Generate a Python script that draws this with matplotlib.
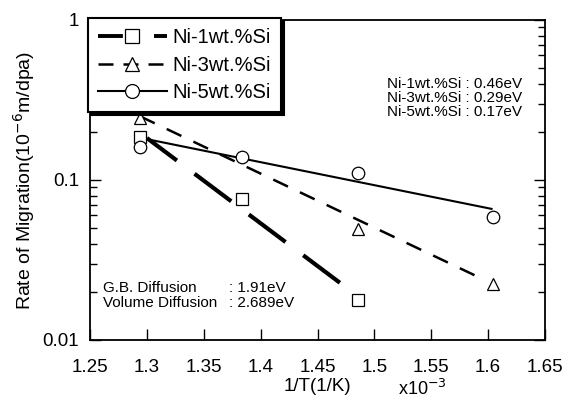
import numpy as np
import matplotlib
matplotlib.use('Agg')
import matplotlib.pyplot as plt
from matplotlib.ticker import FixedLocator, NullFormatter

plt.rcParams['font.family'] = ['Liberation Sans', 'DejaVu Sans']

# measured points
x_pts = [1.294, 1.384, 1.486, 1.604]
ni1_y = [0.186, 0.076, 0.0178]
ni3_y = [0.244, 0.0494, 0.0224]
ni5_y = [0.161, 0.139, 0.111, 0.0587]
ni1_x = [x_pts[0], x_pts[1], x_pts[2]]
ni3_x = [x_pts[0], x_pts[2], x_pts[3]]
ni5_x = x_pts

# fitted lines (end points)
fit1_x, fit1_y = [1.300, 1.470], [0.183, 0.0227]
fit3_x, fit3_y = [1.294, 1.597], [0.25, 0.0237]
fit5_x, fit5_y = [1.300, 1.603], [0.18, 0.066]

labels = ['Ni-1wt.%Si', 'Ni-3wt.%Si', 'Ni-5wt.%Si']
energies = ['0.46eV', '0.29eV', '0.17eV']
xticks = [1.25, 1.3, 1.35, 1.4, 1.45, 1.5, 1.55, 1.6, 1.65]
xticklabels = ['1.25', '1.3', '1.35', '1.4', '1.45', '1.5', '1.55', '1.6', '1.65']

fig = plt.figure(figsize=(5.67, 4.0), dpi=100)
ax = fig.add_axes([90/567, 60/400, 455/567, 320/400])

ax.plot(fit1_x, fit1_y, color='black', lw=3.0, ls=(2.0, (11, 5.3)), dash_capstyle='butt')
ax.plot(fit3_x, fit3_y, color='black', lw=1.8, ls=(0, (6.5, 5.3)))
ax.plot(fit5_x, fit5_y, color='black', lw=1.5)

mk = dict(mfc='white', mec='black', mew=0.9, ms=9, ls='none')
ax.plot(ni1_x, ni1_y, marker='s', **mk)
ax.plot(ni3_x, ni3_y, marker='^', **mk)
ax.plot(ni5_x, ni5_y, marker='o', **mk)

# legend handles
hk = dict(color='black', mfc='white', mec='black', ms=10, mew=0.9)
h1, = ax.plot([], [], lw=2.8, ls=(0, (6.4, 8.0)), marker='s', **hk)
h2, = ax.plot([], [], lw=1.8, ls=(0, (6, 4)), marker='^', **hk)
h3, = ax.plot([], [], lw=1.5, marker='o', **hk)
leg = ax.legend([h1, h2, h3], labels, loc='upper left', bbox_to_anchor=(-0.004, 1.005),
                fontsize=14.5, frameon=True, fancybox=False, shadow={'color': 'black', 'alpha': 1},
                handlelength=3.4, handletextpad=0.3, borderpad=0.5, labelspacing=0.42,
                borderaxespad=0)
leg.get_frame().set_edgecolor('black')
leg.get_frame().set_linewidth(1.5)

ax.set_yscale('log')
ax.set_xlim(1.25, 1.65)
ax.set_ylim(0.01, 1)
ax.xaxis.set_major_locator(FixedLocator(xticks))
ax.set_xticklabels(xticklabels)
ax.set_yticks([0.01, 0.1, 1])
ax.set_yticklabels(['0.01', '0.1', '1'])
ax.yaxis.set_minor_formatter(NullFormatter())
ax.tick_params(which='both', direction='in', right=True, top=False, labelsize=13.5)
ax.tick_params(axis='x', which='major', length=8, width=1, pad=14)
ax.tick_params(axis='y', which='major', length=8, width=1, pad=8)
ax.tick_params(axis='y', which='minor', length=5, width=1)
for s in ax.spines.values():
    s.set_linewidth(1.3)

ax.set_ylabel('Rate of Migration(10$^{-6}$m/dpa)', fontsize=14, labelpad=4)
ax.set_xlabel('1/T(1/K)', fontsize=13.5, labelpad=1)
ax.text(0.677, -0.122, 'x10$^{-3}$', transform=ax.transAxes, fontsize=13, ha='left', va='top')

for i, (lab, en) in enumerate(zip(labels, energies)):
    ax.text(0.949, 0.8 - i * 0.0435, f'{lab} : {en}', transform=ax.transAxes,
            fontsize=11, ha='right', va='center')

ax.text(0.029, 0.1625, 'G.B. Diffusion', transform=ax.transAxes, fontsize=11, va='center')
ax.text(0.029, 0.116, 'Volume Diffusion', transform=ax.transAxes, fontsize=11, va='center')
ax.text(0.306, 0.1625, ': 1.91eV', transform=ax.transAxes, fontsize=11, va='center')
ax.text(0.306, 0.116, ': 2.689eV', transform=ax.transAxes, fontsize=11, va='center')

fig.savefig('out.png', dpi=100)
